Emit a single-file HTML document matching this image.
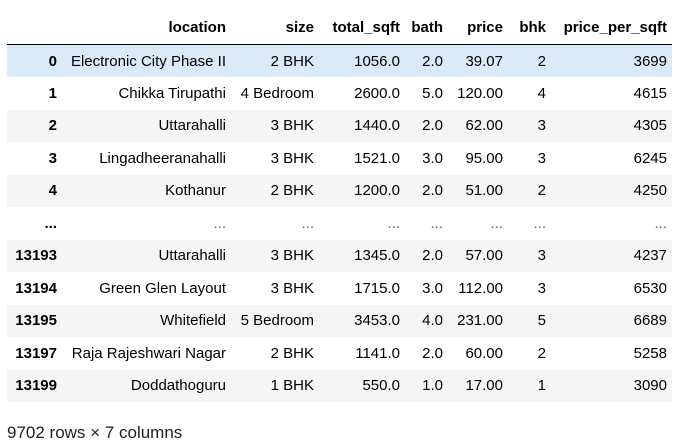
<!DOCTYPE html>
<html><head><meta charset="utf-8"><style>
body{margin:0;width:678px;height:445px;background:#fff;font-family:"Liberation Sans",Arial,sans-serif;font-size:15px;color:#000;overflow:hidden}
table{position:absolute;left:7px;top:11px;border-collapse:collapse;table-layout:fixed;width:665px}
th,td{text-align:right;padding:0 5px 0 0;white-space:nowrap;overflow:hidden}
thead th{height:33px;font-weight:bold;border-bottom:1px solid #000;vertical-align:middle}
tbody tr{height:32.5px}
tbody tr:nth-child(odd){background:#f5f5f5}
tbody tr.hl{background:#dbeaf9}
tbody th{font-weight:bold}
.ell{color:#666}
#foot{position:absolute;left:7px;top:423px;font-size:17px;color:#222}
</style></head><body>
<table>
<colgroup><col style="width:55px"><col style="width:169px"><col style="width:88px"><col style="width:86px"><col style="width:43px"><col style="width:60px"><col style="width:43px"><col style="width:121px"></colgroup>
<thead><tr><th></th><th>location</th><th>size</th><th>total_sqft</th><th>bath</th><th>price</th><th>bhk</th><th>price_per_sqft</th></tr></thead>
<tbody>
<tr class="hl"><th>0</th><td>Electronic City Phase II</td><td>2 BHK</td><td>1056.0</td><td>2.0</td><td>39.07</td><td>2</td><td>3699</td></tr>
<tr><th>1</th><td>Chikka Tirupathi</td><td>4 Bedroom</td><td>2600.0</td><td>5.0</td><td>120.00</td><td>4</td><td>4615</td></tr>
<tr><th>2</th><td>Uttarahalli</td><td>3 BHK</td><td>1440.0</td><td>2.0</td><td>62.00</td><td>3</td><td>4305</td></tr>
<tr><th>3</th><td>Lingadheeranahalli</td><td>3 BHK</td><td>1521.0</td><td>3.0</td><td>95.00</td><td>3</td><td>6245</td></tr>
<tr><th>4</th><td>Kothanur</td><td>2 BHK</td><td>1200.0</td><td>2.0</td><td>51.00</td><td>2</td><td>4250</td></tr>
<tr><th>...</th><td class="ell">...</td><td class="ell">...</td><td class="ell">...</td><td class="ell">...</td><td class="ell">...</td><td class="ell">...</td><td class="ell">...</td></tr>
<tr><th>13193</th><td>Uttarahalli</td><td>3 BHK</td><td>1345.0</td><td>2.0</td><td>57.00</td><td>3</td><td>4237</td></tr>
<tr><th>13194</th><td>Green Glen Layout</td><td>3 BHK</td><td>1715.0</td><td>3.0</td><td>112.00</td><td>3</td><td>6530</td></tr>
<tr><th>13195</th><td>Whitefield</td><td>5 Bedroom</td><td>3453.0</td><td>4.0</td><td>231.00</td><td>5</td><td>6689</td></tr>
<tr><th>13197</th><td>Raja Rajeshwari Nagar</td><td>2 BHK</td><td>1141.0</td><td>2.0</td><td>60.00</td><td>2</td><td>5258</td></tr>
<tr><th>13199</th><td>Doddathoguru</td><td>1 BHK</td><td>550.0</td><td>1.0</td><td>17.00</td><td>1</td><td>3090</td></tr>
</tbody></table>
<div id="foot">9702 rows × 7 columns</div>
</body></html>
